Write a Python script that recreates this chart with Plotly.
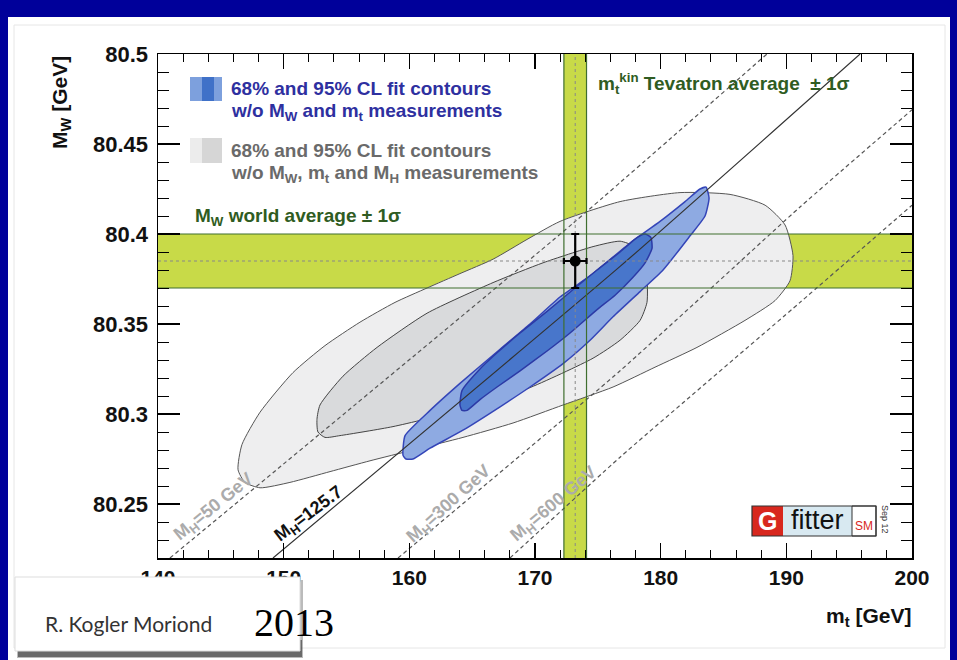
import plotly.graph_objects as go

# ---------------- data ----------------
mt_ticks = [140, 150, 160, 170, 180, 190, 200]
mt_tick_text = ["140", "150", "160", "170", "180", "190", "200"]
mw_ticks = [80.25, 80.3, 80.35, 80.4, 80.45, 80.5]
mw_tick_text = ["80.25", "80.3", "80.35", "80.4", "80.45", "80.5"]
mt_range = [140, 200]
mw_range = [80.22, 80.5]

# measurements
mw_world_avg = 80.385
mw_world_err = 0.015
mt_tevatron = 173.2
mt_tevatron_err = 0.9

# 95% CL contour w/o MW, mt and MH measurements (light grey)
gray95_mt = [146.37, 146.68, 148.12, 150.74, 153.29, 156.07, 158.86, 161.41, 164.03, 166.66,
             169.37, 171.99, 176.77, 181.54, 185.52, 188.31, 189.90, 190.53, 190.29, 189.10,
             186.71, 182.89, 179.55, 176.21, 172.23, 168.25, 164.27, 160.29, 156.87, 153.69,
             150.50, 148.12, 146.92, 146.37]
gray95_mw = [80.269, 80.283, 80.301, 80.323, 80.338, 80.351, 80.362, 80.370, 80.378, 80.386,
             80.397, 80.407, 80.418, 80.423, 80.422, 80.416, 80.405, 80.388, 80.374, 80.363,
             80.352, 80.337, 80.326, 80.315, 80.305, 80.295, 80.287, 80.280, 80.274, 80.268,
             80.262, 80.259, 80.262, 80.269]

# 68% CL contour w/o MW, mt and MH measurements (darker grey)
gray68_mt = [152.65, 152.89, 154.72, 157.43, 161.41, 166.66, 170.64, 174.62, 176.77, 177.96,
             178.68, 178.91, 178.91, 178.36, 176.77, 174.62, 169.37, 164.03, 158.70, 154.48,
             153.29, 152.73, 152.65]
gray68_mw = [80.297, 80.305, 80.321, 80.337, 80.356, 80.373, 80.384, 80.393, 80.396, 80.393,
             80.387, 80.377, 80.362, 80.352, 80.341, 80.331, 80.314, 80.302, 80.293, 80.288,
             80.287, 80.290, 80.297]

# 95% CL contour w/o MW and mt measurements (light blue)
blue95_mt = [159.50, 159.66, 161.65, 164.03, 167.22, 169.60, 171.99, 174.62, 177.56, 179.95,
             181.94, 183.13, 183.61, 183.85, 183.53, 182.34, 180.19, 178.36, 176.21, 174.38,
             172.23, 169.60, 167.22, 164.27, 161.65, 160.29, 159.74, 159.50]
blue95_mw = [80.277, 80.288, 80.302, 80.317, 80.336, 80.350, 80.365, 80.378, 80.395, 80.407,
             80.418, 80.425, 80.426, 80.420, 80.410, 80.399, 80.380, 80.368, 80.354, 80.341,
             80.328, 80.315, 80.304, 80.291, 80.281, 80.275, 80.275, 80.277]

# 68% CL contour w/o MW and mt measurements (dark blue)
blue68_mt = [164.03, 164.19, 165.62, 166.98, 168.81, 170.96, 173.18, 174.94, 176.77, 178.12,
             178.76, 179.23, 179.31, 178.76, 177.80, 176.37, 174.94, 172.79, 170.96, 168.81,
             166.98, 165.62, 164.59, 164.19, 164.03]
blue68_mw = [80.305, 80.313, 80.325, 80.334, 80.345, 80.357, 80.370, 80.380, 80.390, 80.398,
             80.400, 80.398, 80.392, 80.384, 80.376, 80.366, 80.358, 80.345, 80.335, 80.324,
             80.315, 80.308, 80.302, 80.302, 80.305]

# lines of constant Higgs mass
mh50_mt = [140.95, 173.03, 188.46]
mh50_mw = [80.22, 80.406, 80.5]
mh125_mt = [149.15, 176.77, 195.87]
mh125_mw = [80.22, 80.382, 80.5]
mh300_mt = [159.10, 176.77, 191.09, 200.0]
mh300_mw = [80.22, 80.324, 80.415, 80.469]
mh600_mt = [168.01, 176.77, 191.09, 200.0]
mh600_mw = [80.22, 80.276, 80.362, 80.416]

# ---------------- page geometry (pixels of the 957x660 picture) ----------------
W, H = 957, 660
PL, PR, PT, PB = 158, 912, 54, 558


def px(x):
    return (x - PL) / (PR - PL)


def py(y):
    return (PB - y) / (PB - PT)


FONT = "Liberation Sans"
GREEN_FILL = "#c8da48"
GREEN_LINE = "#3f6e2f"
PAGE_BLUE = "#00009a"

fig = go.Figure()

# measurement bands (fills)
band_lo = mw_world_avg - mw_world_err
band_hi = mw_world_avg + mw_world_err
fig.add_trace(go.Scatter(x=[mt_range[0], mt_range[1], mt_range[1], mt_range[0], mt_range[0]],
                         y=[band_lo, band_lo, band_hi, band_hi, band_lo],
                         fill="toself", fillcolor=GREEN_FILL, mode="lines",
                         line=dict(width=0, color=GREEN_FILL), hoverinfo="skip"))
vb_lo = mt_tevatron - mt_tevatron_err
vb_hi = mt_tevatron + mt_tevatron_err
fig.add_trace(go.Scatter(x=[vb_lo, vb_hi, vb_hi, vb_lo, vb_lo],
                         y=[mw_range[0], mw_range[0], mw_range[1], mw_range[1], mw_range[0]],
                         fill="toself", fillcolor=GREEN_FILL, mode="lines",
                         line=dict(width=0, color=GREEN_FILL), hoverinfo="skip"))

# contours
fig.add_trace(go.Scatter(x=gray95_mt, y=gray95_mw, fill="toself", fillcolor="#eeeeef",
                         mode="lines", line=dict(color="#555555", width=1, shape="spline", smoothing=0.6),
                         hoverinfo="skip"))
fig.add_trace(go.Scatter(x=gray68_mt, y=gray68_mw, fill="toself", fillcolor="#d9dadc",
                         mode="lines", line=dict(color="#444444", width=1, shape="spline", smoothing=0.6),
                         hoverinfo="skip"))
fig.add_trace(go.Scatter(x=blue95_mt, y=blue95_mw, fill="toself", fillcolor="#8eaae2",
                         mode="lines", line=dict(color="#3445b8", width=1.5, shape="spline", smoothing=0.5),
                         hoverinfo="skip"))
fig.add_trace(go.Scatter(x=blue68_mt, y=blue68_mw, fill="toself", fillcolor="#4876cb",
                         mode="lines", line=dict(color="#2c3aa6", width=1.5, shape="spline", smoothing=0.5),
                         hoverinfo="skip"))

# constant-MH lines
for xs, ys, dash, col in [(mh50_mt, mh50_mw, "4px,3px", "#555555"),
                          (mh125_mt, mh125_mw, "solid", "#333333"),
                          (mh300_mt, mh300_mw, "4px,3px", "#555555"),
                          (mh600_mt, mh600_mw, "4px,3px", "#555555")]:
    fig.add_trace(go.Scatter(x=xs, y=ys, mode="lines",
                             line=dict(color=col, width=1.2, dash=dash, shape="spline", smoothing=0.5),
                             hoverinfo="skip"))

# band borders
for yv in [band_lo, band_hi]:
    fig.add_trace(go.Scatter(x=mt_range, y=[yv, yv], mode="lines",
                             line=dict(color=GREEN_LINE, width=1.2), hoverinfo="skip"))
for xv in [vb_lo, vb_hi]:
    fig.add_trace(go.Scatter(x=[xv, xv], y=mw_range, mode="lines",
                             line=dict(color=GREEN_LINE, width=1.2), hoverinfo="skip"))
# central dotted lines
fig.add_trace(go.Scatter(x=mt_range, y=[mw_world_avg, mw_world_avg], mode="lines",
                         line=dict(color="#888888", width=1, dash="dot"), hoverinfo="skip"))
fig.add_trace(go.Scatter(x=[mt_tevatron, mt_tevatron], y=mw_range, mode="lines",
                         line=dict(color="#888888", width=1, dash="dot"), hoverinfo="skip"))

# measurement point
fig.add_trace(go.Scatter(x=[mt_tevatron], y=[mw_world_avg], mode="markers",
                         marker=dict(color="black", size=11),
                         error_x=dict(type="data", array=[mt_tevatron_err], color="black", thickness=2.2, width=3),
                         error_y=dict(type="data", array=[mw_world_err], color="black", thickness=2.2, width=4),
                         hoverinfo="skip"))

axis_common = dict(showline=True, linecolor="black", linewidth=1.5, mirror="ticks",
                   ticks="inside", tickcolor="black", showgrid=False, zeroline=False)

fig.update_xaxes(range=mt_range, tickvals=mt_ticks, ticktext=mt_tick_text, ticklen=15, tickwidth=1.2,
                 tickfont=dict(family=FONT, size=21, color="#111111", weight="bold"),
                 minor=dict(dtick=2, ticklen=8, tickcolor="black", ticks="inside", tickwidth=1),
                 **axis_common)
fig.update_yaxes(range=mw_range, tickvals=mw_ticks, ticktext=mw_tick_text, ticklen=22, tickwidth=1.2,
                 tickfont=dict(family=FONT, size=22, color="#111111", weight="bold"),
                 ticklabelstandoff=4,
                 minor=dict(dtick=0.01, ticklen=11, tickcolor="black", ticks="inside", tickwidth=1),
                 **axis_common)

shapes = []
# white slide panel and faint frame
shapes.append(dict(type="rect", xref="paper", yref="paper", x0=px(8), x1=px(950), y0=py(662), y1=py(17),
                   fillcolor="white", line=dict(width=0), layer="below"))
shapes.append(dict(type="rect", xref="paper", yref="paper", x0=px(14), x1=px(945), y0=py(648), y1=py(25),
                   fillcolor="rgba(0,0,0,0)", line=dict(width=1, color="#e6e6e6"), layer="below"))

# legend swatches
shapes.append(dict(type="rect", xref="paper", yref="paper", x0=px(190), x1=px(222), y0=py(101), y1=py(77),
                   fillcolor="#7da0dd", line=dict(width=0), layer="above"))
shapes.append(dict(type="rect", xref="paper", yref="paper", x0=px(202), x1=px(214), y0=py(101), y1=py(77),
                   fillcolor="#3f71c8", line=dict(width=0), layer="above"))
shapes.append(dict(type="rect", xref="paper", yref="paper", x0=px(190), x1=px(222), y0=py(163), y1=py(138),
                   fillcolor="#ececec", line=dict(width=0), layer="above"))
shapes.append(dict(type="rect", xref="paper", yref="paper", x0=px(202), x1=px(222), y0=py(163), y1=py(138),
                   fillcolor="#d6d6d6", line=dict(width=0), layer="above"))

# Gfitter logo
shapes.append(dict(type="rect", xref="paper", yref="paper", x0=px(752), x1=px(783), y0=py(536), y1=py(506),
                   fillcolor="#d8281e", line=dict(width=0), layer="above"))
shapes.append(dict(type="rect", xref="paper", yref="paper", x0=px(783), x1=px(852), y0=py(536), y1=py(506),
                   fillcolor="#d8e9f1", line=dict(width=0), layer="above"))
shapes.append(dict(type="rect", xref="paper", yref="paper", x0=px(852), x1=px(876), y0=py(536), y1=py(506),
                   fillcolor="white", line=dict(width=1, color="#333333"), layer="above"))
shapes.append(dict(type="rect", xref="paper", yref="paper", x0=px(752), x1=px(876), y0=py(536), y1=py(506),
                   fillcolor="rgba(0,0,0,0)", line=dict(width=1.2, color="#333333"), layer="above"))

# author box with shadow
shapes.append(dict(type="rect", xref="paper", yref="paper", x0=px(17), x1=px(303), y0=py(658), y1=py(580),
                   fillcolor="rgba(60,60,60,0.35)", line=dict(width=0), layer="above"))
shapes.append(dict(type="rect", xref="paper", yref="paper", x0=px(18), x1=px(302), y0=py(657), y1=py(640),
                   fillcolor="rgba(50,50,50,0.6)", line=dict(width=0), layer="above"))
shapes.append(dict(type="rect", xref="paper", yref="paper", x0=px(15), x1=px(300), y0=py(651), y1=py(577),
                   fillcolor="white", line=dict(width=1, color="#dddddd"), layer="above"))

BLUE_TXT = "#2e30a0"
GRAY_TXT = "#6a6a6a"
GREEN_TXT = "#2f5c22"

ann = []


def add_text(text, x, y, size, color, xanchor="left", yanchor="middle", angle=0, family=FONT, weight="bold"):
    ann.append(dict(text=text, x=px(x), y=py(y), xref="paper", yref="paper", showarrow=False,
                    xanchor=xanchor, yanchor=yanchor, textangle=angle,
                    font=dict(family=family, size=size, color=color, weight=weight)))


add_text("68% and 95% CL fit contours", 229, 88, 19, BLUE_TXT)
add_text("w/o M<sub>W</sub> and m<sub>t</sub> measurements", 229, 112, 19, BLUE_TXT)
add_text("68% and 95% CL fit contours", 229, 150, 19, GRAY_TXT)
add_text("w/o M<sub>W</sub>, m<sub>t</sub> and M<sub>H</sub> measurements", 229, 174, 19, GRAY_TXT)
add_text("M<sub>W</sub> world average ± 1σ", 193, 217, 19, GREEN_TXT)
add_text("m<sub>t</sub><sup>kin</sup> Tevatron average  ± 1σ", 596, 83, 19, GREEN_TXT)

add_text("M<sub>H</sub>=50 GeV", 214, 507, 18, "#ababab", xanchor="center", angle=-39)
add_text("M<sub>H</sub>=125.7", 309, 514, 18, "#111111", xanchor="center", angle=-37)
add_text("M<sub>H</sub>=300 GeV", 449, 504, 18, "#ababab", xanchor="center", angle=-42)
add_text("M<sub>H</sub>=600 GeV", 554, 504, 18, "#ababab", xanchor="center", angle=-40)

# axis titles
add_text("M<sub>W</sub> [GeV]", 61, 103, 21, "#111111", xanchor="center", angle=-90)
add_text("m<sub>t</sub> [GeV]", 913, 617, 21, "#111111", xanchor="right")

# Gfitter logo text
add_text("G", 767.5, 521, 25, "white", xanchor="center")
add_text("fitter", 817, 520, 27, "#111111", xanchor="center", weight="normal")
add_text("SM", 864, 526, 12, "#d8281e", xanchor="center", weight="normal")
add_text("Sep 12", 885, 519, 9, "#333333", xanchor="center", angle=90, weight="normal")

# author box text
add_text("R. Kogler Moriond", 43, 623, 21, "#333333", family="Lato", weight="normal")
add_text("2013", 252, 622, 40, "#000000", family="Liberation Serif", weight="normal")

fig.update_layout(
    width=W, height=H,
    margin=dict(l=PL, r=W - PR, t=PT, b=H - PB, pad=0),
    paper_bgcolor=PAGE_BLUE,
    plot_bgcolor="white",
    showlegend=False,
    shapes=shapes,
    annotations=ann,
)

fig.write_html("out.html",
               config={"displayModeBar": False, "staticPlot": True},
               post_script="document.body.style.margin='0px';"
                           "document.body.style.background='" + PAGE_BLUE + "';"
                           "document.body.style.overflow='hidden';")
